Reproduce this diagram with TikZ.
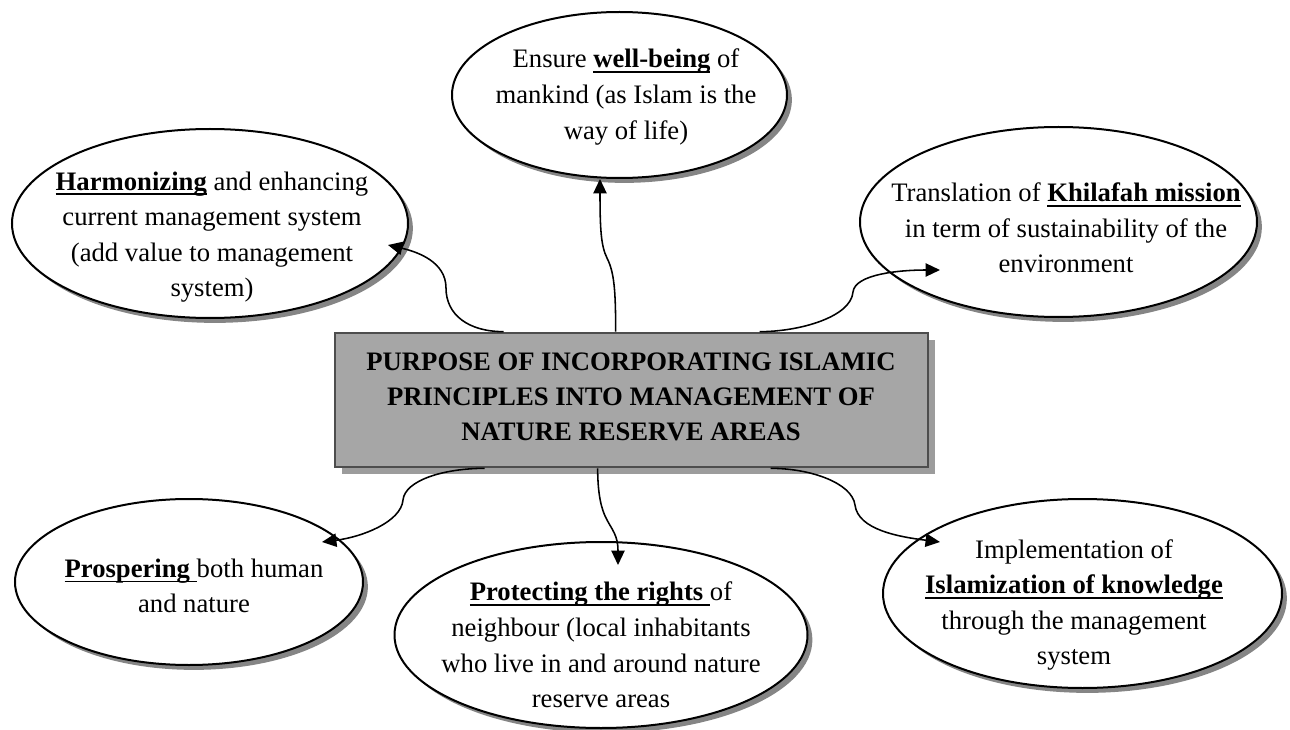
\documentclass[tikz,border=0pt]{standalone}
\usepackage{fontspec}
\setmainfont{Liberation Serif}
\usetikzlibrary{shapes.geometric,arrows.meta,shadows,calc}
\definecolor{boxfill}{HTML}{A6A6A6}
\definecolor{boxline}{HTML}{4D4D4D}
\definecolor{boxshadow}{HTML}{9C9C9C}
\definecolor{ellshadow}{HTML}{858585}
\newcommand\ulb[1]{\setbox0\hbox{\textbf{#1}}\rlap{\rule[-2.3pt]{\wd0}{0.8pt}}\box0\relax}
\begin{document}
\begin{tikzpicture}[x=0.45pt, y=-0.45pt,
  bubble/.style={ellipse, draw=black, line width=0.9pt, fill=white, inner sep=0pt,
    drop shadow={shadow xshift=2.2pt, shadow yshift=-2.2pt, fill=ellshadow, opacity=1}},
  txt/.style={align=center, font=\fontsize{12}{16}\selectfont, inner sep=0pt},
  titletxt/.style={align=center, font=\fontsize{12}{15.75}\selectfont\bfseries, inner sep=0pt},
  link/.style={line width=0.7pt, -{Triangle[length=6.5pt,width=6pt]}},
  titlebox/.style={rectangle, draw=boxline, fill=boxfill, line width=1.2pt, inner sep=0pt,
    drop shadow={shadow xshift=3pt, shadow yshift=-3pt, fill=boxshadow, opacity=1}}]
\useasboundingbox (0,0) rectangle (1290,730);

% ellipses
\node[bubble, minimum width=178.2pt, minimum height=85.05pt] (e1) at (210,223.5) {};
\node[bubble, minimum width=150.75pt, minimum height=74.7pt] (e2) at (619.5,95) {};
\node[bubble, minimum width=178.65pt, minimum height=85.5pt] (e3) at (1058.5,222) {};
\node[bubble, minimum width=156.6pt, minimum height=74.7pt] (e4) at (189,582) {};
\node[bubble, minimum width=185.85pt, minimum height=83.7pt] (e5) at (601,635) {};
\node[bubble, minimum width=179.55pt, minimum height=85.05pt] (e6) at (1082.5,593.5) {};

% texts
\node[txt] (t1) at (212,237) {\ulb{Harmonizing} and enhancing\\current management system\\(add value to management\\system)};
\node[txt] (t2) at (626,97) {Ensure \ulb{well-being} of\\mankind (as Islam is the\\way of life)};
\node[txt] (t3) at (1066,228) {Translation of \ulb{Khilafah mission}\\in term of sustainability of the\\environment};
\node[txt] (t4) at (194,586) {\ulb{Prospering }both human\\and nature};
\node[txt] (t5) at (601,645) {\ulb{Protecting the rights }of\\neighbour (local inhabitants\\who live in and around nature\\reserve areas};
\node[txt] (t6) at (1074,605) {Implementation of\\\ulb{Islamization of knowledge}\\through the management\\system};

% central box
\node[titlebox, minimum width=266.85pt, minimum height=60.3pt] (box) at (631.5,400) {};
\node[titletxt] (title) at (631,397) {PURPOSE OF INCORPORATING ISLAMIC\\PRINCIPLES INTO MANAGEMENT OF\\NATURE RESERVE AREAS};

% connectors
\draw[link] ($(box.north west)+(170,0)$) .. controls +(-35,0) and +(0,27) .. (446,288)
   .. controls +(0,-26) and +(30,7) .. ($(e1)+(178,21.5)$);
\draw[link] ($(box.north west)+(282,0)$) .. controls +(0,-43) and +(7,14) .. (607,258)
   .. controls +(-6,-12) and +(0,50) .. ($(e2)+(-19.5,84)$);
\draw[link] ($(box.north west)+(426,0)$) .. controls +(40,0) and +(-2,25) .. (853,292)
   .. controls +(2,-18) and +(-40,0) .. ($(e3)+(-118.5,48)$);
\draw[link] ($(box.south west)+(151,0)$) .. controls +(-40,0) and +(2,-20) .. (403,500)
   .. controls +(-2,22) and +(40,-5) .. ($(e4)+(133,-40)$);
\draw[link] ($(box.south west)+(264,0)$) .. controls +(0,28) and +(-4,-8) .. (606,518)
   .. controls +(6,12) and +(0,-30) .. ($(e5)+(17,-70)$);
\draw[link] ($(box.south west)+(437,0)$) .. controls +(40,0) and +(-3,-22) .. (855,505)
   .. controls +(3,25) and +(-40,-5) .. ($(e6)+(-142.5,-51.5)$);
\end{tikzpicture}
\end{document}
